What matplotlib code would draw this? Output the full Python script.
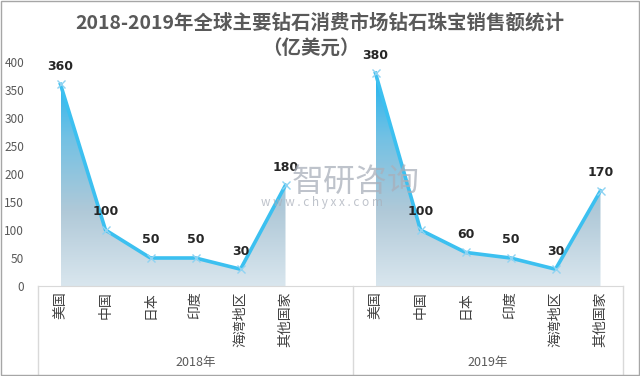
import numpy as np
import matplotlib
matplotlib.use("Agg")
from matplotlib import pyplot as plt
from matplotlib.colors import LinearSegmentedColormap
from matplotlib.patches import Polygon, Rectangle
import matplotlib.transforms as mtransforms

plt.rcParams["font.family"] = ["Noto Sans CJK SC", "DejaVu Sans"]

categories = ["美国", "中国", "日本", "印度", "海湾地区", "其他国家"]
years = ["2018年", "2019年"]
sales_2018 = [360, 100, 50, 50, 30, 180]
sales_2019 = [380, 100, 60, 50, 30, 170]
yticks = [0, 50, 100, 150, 200, 250, 300, 350, 400]

fig = plt.figure(figsize=(6.4, 3.76), dpi=100)
ax = fig.add_axes([38 / 640, 90 / 376, 585 / 640, 224 / 376])

grad = LinearSegmentedColormap.from_list(
    "g", ["#d9e6ee", "#b0c9d8", "#72c1e4", "#12b2f2"])
line_color = "#3cc0f0"

x18 = np.arange(len(categories))
x19 = np.arange(len(categories)) + len(categories) + 1
img = np.linspace(0, 1, 256).reshape(-1, 1)

for xs, ys in [(x18, sales_2018), (x19, sales_2019)]:
    verts = [(xs[0], 0)] + list(zip(xs, ys)) + [(xs[-1], 0)]
    poly = Polygon(verts, closed=True, facecolor="none", edgecolor="none")
    ax.add_patch(poly)
    im = ax.imshow(img, cmap=grad, aspect="auto", origin="lower",
                   extent=[xs[0], xs[-1], 0, 400], zorder=1)
    im.set_clip_path(poly)
    ax.plot(xs, ys, color=line_color, lw=2.6, zorder=3, solid_joinstyle="round")
    ax.plot(xs, ys, "x", color="#8fd3f2", ms=6, mew=1, zorder=4)
    for x, y in zip(xs, ys):
        ax.annotate(str(y), (x, y), xytext=(0, 13), textcoords="offset points",
                    ha="center", va="center", fontsize=9, color="#262626",
                    fontweight="bold", family=["DejaVu Sans"])

n = 2 * len(categories) + 1
ax.set_xlim(-0.5, n - 0.5)
ax.set_ylim(0, 400)
ax.set_yticks(yticks)
ax.tick_params(axis="y", length=0, pad=10, labelsize=8.5, labelcolor="#595959")
ax.set_xticks([])
for s in ["top", "right", "left"]:
    ax.spines[s].set_visible(False)
ax.spines["bottom"].set_color("#d9d9d9")

trans = mtransforms.blended_transform_factory(ax.transData, ax.transAxes)
for xs in [x18, x19]:
    for x, c in zip(xs, categories):
        ax.text(x, -0.025, c, transform=trans, rotation=90, ha="center", va="top",
                fontsize=10, color="#404040")

bounds = [-0.5, len(categories) + 0.5, n - 0.5]
for b in bounds:
    ax.plot([b, b], [0, -0.4], transform=trans, color="#d9d9d9", lw=1, clip_on=False)
for i, yl in enumerate(years):
    ax.text((bounds[i] + bounds[i + 1]) / 2, -0.34, yl, transform=trans,
            ha="center", va="center", fontsize=9, color="#595959")

# watermark
fig.text(0.555, 0.515, "智研咨询", ha="center", va="center", fontsize=23,
         color="#a9afba", alpha=0.75, zorder=10)
fig.text(0.503, 0.462, "w w w . c h y x x . c o m", ha="center", va="center",
         fontsize=8.5, color="#a9afba", alpha=0.75, zorder=10)

fig.text(0.5, 0.938, "2018-2019年全球主要钻石消费市场钻石珠宝销售额统计", ha="center",
         va="center", fontsize=14, color="#595959", fontweight="bold")
fig.text(0.485, 0.87, "（亿美元）", ha="center", va="center", fontsize=14,
         color="#595959", fontweight="bold")

fig.patches.append(Rectangle((0.002, 0.003), 0.996, 0.994, transform=fig.transFigure,
                             fill=False, edgecolor="#a6a6a6", lw=1))

fig.savefig("out.png", dpi=100)
